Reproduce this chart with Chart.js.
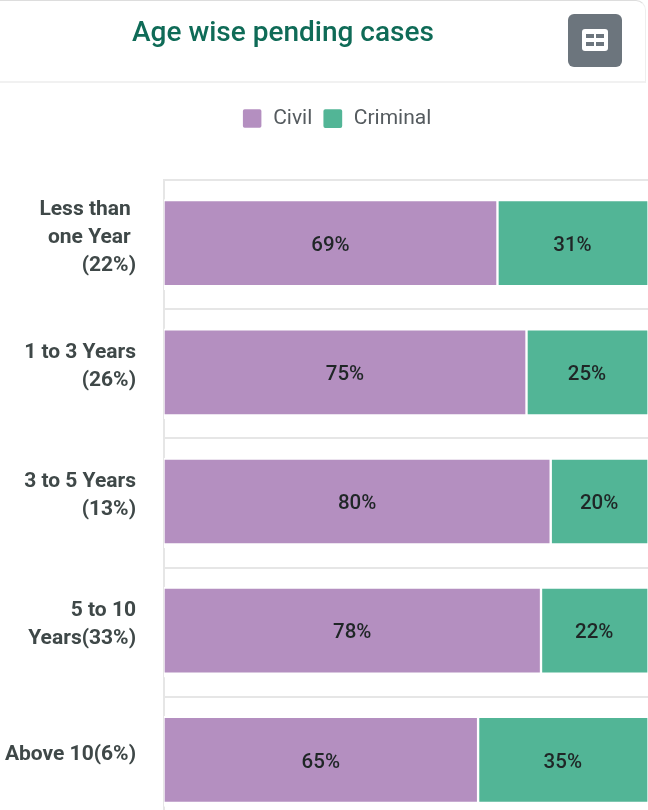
<!DOCTYPE html>
<html>
<head>
<meta charset="utf-8">
<script src="https://cdn.jsdelivr.net/npm/chart.js@4"></script>
<style>
html,body{margin:0;padding:0;width:648px;height:810px;overflow:hidden;background:#fff;font-family:Roboto,sans-serif}
#card{position:absolute;left:-4px;top:0;width:650px;height:83px;border-top:1px solid #ddd;border-right:1px solid #eee;border-bottom:2px solid #f1f1f1;border-top-right-radius:10px;box-sizing:border-box}
#title{position:absolute;left:132px;top:14px;font-size:28px;line-height:36px;font-weight:500;color:#0f6b57;white-space:nowrap}
#btn{position:absolute;left:568px;top:14px;width:54px;height:53px;background:#6c757d;border-radius:6px}
#btn svg{position:absolute;left:14px;top:14px}
#c{position:absolute;left:0;top:0}
</style>
</head>
<body>
<canvas id="c" width="648" height="826"></canvas>
<div id="card"></div>
<div id="title">Age wise pending cases</div>
<div id="btn"><svg width="26" height="25" viewBox="0 0 26 25"><rect x="0" y="1" width="26" height="22" rx="3" fill="#fff"/><rect x="4" y="6" width="8" height="4" fill="#6c757d"/><rect x="14" y="6" width="8" height="4" fill="#6c757d"/><rect x="4" y="14" width="8" height="4" fill="#6c757d"/><rect x="14" y="14" width="8" height="4" fill="#6c757d"/></svg></div>
<script>
const categories = [
  ["Less than ", "one Year ", "(22%)"],
  ["1 to 3 Years", "(26%)"],
  ["3 to 5 Years", "(13%)"],
  ["5 to 10", "Years(33%)"],
  ["Above 10(6%)"]
];
const civil = [69, 75, 80, 78, 65];
const criminal = [31, 25, 20, 22, 35];

const barLabels = {
  id: 'barLabels',
  afterDatasetsDraw(chart) {
    const ctx = chart.ctx;
    ctx.save();
    ctx.font = '500 20.5px Roboto';
    ctx.fillStyle = '#1f2626';
    ctx.textAlign = 'center';
    ctx.textBaseline = 'middle';
    chart.data.datasets.forEach((ds, i) => {
      chart.getDatasetMeta(i).data.forEach((bar, j) => {
        const p = bar.getProps(['x', 'y', 'base'], true);
        ctx.fillText(ds.data[j] + '%', (p.x + p.base) / 2 - 0.5, p.y + 1);
      });
    });
    ctx.restore();
  }
};

const legendPlace = {
  id: 'legendPlace',
  beforeInit(chart) {
    const legend = chart.legend;
    const fit = legend.fit;
    const draw = legend.draw;
    legend.fit = function () {
      fit.call(this);
      this.height = 82;
    };
    legend.draw = function () {
      chart.ctx.save();
      chart.ctx.translate(12.5, 0);
      draw.call(this);
      chart.ctx.restore();
    };
  }
};

new Chart(document.getElementById('c'), {
  type: 'bar',
  plugins: [barLabels, legendPlace],
  data: {
    labels: categories,
    datasets: [
      { label: 'Civil', data: civil, backgroundColor: '#b48fc0', borderColor: '#fff', borderSkipped: false, borderWidth: {left: 1, right: 2, top: 2, bottom: 5}, barThickness: 90 },
      { label: 'Criminal', data: criminal, backgroundColor: '#52b596', borderColor: '#fff', borderSkipped: false, borderWidth: {left: 1, right: 1, top: 2, bottom: 5}, barThickness: 90 }
    ]
  },
  options: {
    indexAxis: 'y',
    responsive: false,
    animation: false,
    layout: { padding: { left: 0, top: 98, right: 0, bottom: 0 } },
    plugins: {
      tooltip: { enabled: false },
      legend: {
        position: 'top',
        labels: {
          boxWidth: 21, boxHeight: 21, useBorderRadius: true, borderRadius: 3,
          padding: 10, color: '#555b5f', font: { family: 'Roboto', size: 21 }
        }
      }
    },
    scales: {
      x: { stacked: true, min: 0, max: 100, display: false },
      y: {
        stacked: true,
        afterFit(s) { s.width = 164; s.paddingTop = 0; s.paddingBottom = 0; },
        grid: { color: '#e6e6e6', lineWidth: 2, drawTicks: false },
        border: { display: true, color: '#e6e6e6', width: 2 },
        ticks: { padding: 28, labelOffset: -7, color: '#3f4848', font: { family: 'Roboto', size: 21, weight: '700', lineHeight: 1.33 } }
      }
    }
  }
});
</script>
</body>
</html>
